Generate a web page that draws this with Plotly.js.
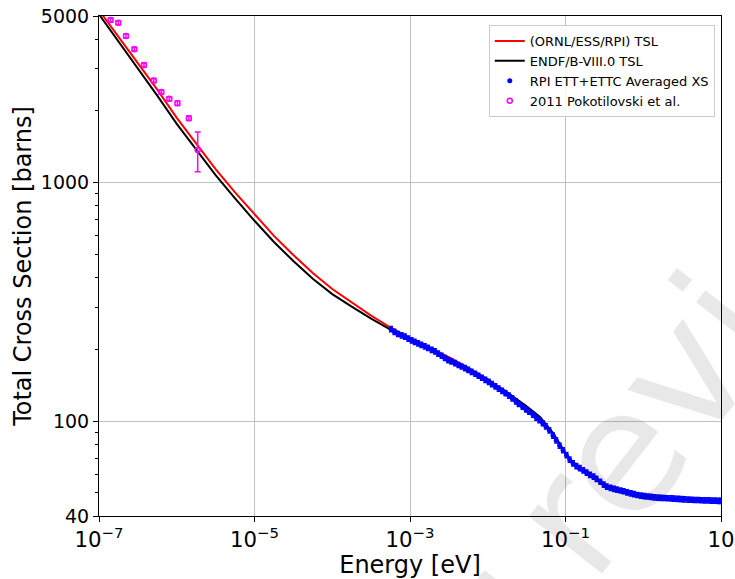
<!DOCTYPE html>
<html>
<head>
<meta charset="utf-8">
<script src="https://cdn.plot.ly/plotly-3.0.1.min.js"></script>
<style>
html,body{margin:0;padding:0;background:#fff;overflow:hidden;}
#wrap{position:relative;width:735px;height:579px;overflow:hidden;}
#chart{width:735px;height:579px;}
#wm{position:absolute;left:544px;top:552px;transform:translate(-50%,-50%) rotate(-52deg);
  white-space:nowrap;font-family:'DejaVu Sans';font-size:170px;line-height:1;color:rgba(0,0,0,0.09);pointer-events:none;}
</style>
</head>
<body>
<div id="wrap">
<div id="chart"></div>
<div id="wm">Under review</div>
</div>
<script>
// Evaluated TSL curves (energy in eV, total cross section in barns)
const tslEnergy = [1e-7, 1.78e-7, 3.16e-7, 5.62e-7, 1e-6, 1.78e-6, 3.16e-6, 5.62e-6, 1e-5, 1.78e-5, 3.16e-5, 5.62e-5, 1e-4, 1.78e-4, 3.16e-4, 5.62e-4, 1e-3, 1.78e-3, 3.16e-3, 5.62e-3, 1e-2, 1.78e-2, 2.51e-2, 3.16e-2, 4.7e-2, 5.62e-2, 6.97e-2, 8.32e-2, 0.1, 0.12, 0.146, 0.178, 0.217, 0.282, 0.355, 0.5, 0.82, 2.2, 10];
const ornlXS = [5283, 4092, 3186, 2457, 1871, 1452, 1140, 911, 736, 598, 497, 418, 358, 314, 277, 247, 223, 203.4, 185.3, 167.2, 149.6, 131.3, 120.7, 114.1, 103, 95.8, 88, 80.1, 72.6, 67.5, 62.8, 60.8, 58.8, 55.3, 52.2, 50.7, 48.5, 46.9, 46];
const endfXS = [5080, 3908, 3020, 2318, 1765, 1370, 1075, 859, 692, 564, 469, 395, 341, 302, 269, 242, 220, 201, 183.5, 166, 149, 132, 121.9, 115.3, 104, 96.8, 88.9, 80.9, 73.3, 68.2, 63.4, 61.4, 59.4, 55.9, 52.7, 51.2, 49, 47.4, 46.4];

// RPI ETT+ETTC averaged measurement
const rpiEnergy = [5.7e-4, 6.3e-4, 7.0e-4, 7.8e-4, 8.6e-4, 9.5e-4, 1.05e-3, 1.15e-3, 1.27e-3, 1.4e-3, 1.55e-3, 1.7e-3, 1.9e-3, 2.1e-3, 2.3e-3, 2.55e-3, 2.8e-3, 3.1e-3, 3.4e-3, 3.8e-3, 4.2e-3, 4.6e-3, 5.1e-3, 5.6e-3, 6.2e-3, 6.9e-3, 7.6e-3, 8.4e-3, 9.3e-3, 1.03e-2, 1.13e-2, 1.25e-2, 1.38e-2, 1.53e-2, 1.69e-2, 1.87e-2, 2.07e-2, 2.3e-2, 2.5e-2, 2.8e-2, 3.1e-2, 3.4e-2, 3.8e-2, 4.2e-2, 4.6e-2, 5.1e-2, 5.6e-2, 6.2e-2, 6.9e-2, 7.6e-2, 8.4e-2, 9.3e-2, 0.103, 0.113, 0.125, 0.138, 0.153, 0.169, 0.187, 0.207, 0.23, 0.25, 0.28, 0.31, 0.34, 0.38, 0.42, 0.46, 0.51, 0.56, 0.62, 0.69, 0.76, 0.84, 0.93, 1.03, 1.13, 1.25, 1.38, 1.53, 1.69, 1.87, 2.07, 2.3, 2.5, 2.8, 3.1, 3.4, 3.8, 4.2, 4.6, 5.1, 5.6, 6.2, 6.9, 7.6, 8.4, 9.3, 10];
const rpiXS = [243, 237, 232, 229, 226, 222, 218, 215, 212, 209, 206, 203, 199, 196, 192, 188, 184, 180, 178, 175, 172, 169.5, 167, 164, 161, 158, 155, 152, 149, 146, 143, 140, 137, 134, 131, 128, 124.5, 121, 118, 115, 112, 109.5, 106.5, 103.5, 101, 98, 95, 91.5, 87, 83, 79, 75.5, 72, 69, 66.5, 64.8, 63.5, 62.2, 60.8, 59.5, 58.5, 57.3, 55.7, 54.2, 53.1, 52.5, 52.0, 51.6, 51.2, 50.8, 50.3, 49.8, 49.4, 49.0, 48.7, 48.5, 48.3, 48.1, 47.9, 47.8, 47.7, 47.6, 47.5, 47.4, 47.3, 47.2, 47.1, 47.0, 46.9, 46.8, 46.7, 46.7, 46.6, 46.5, 46.5, 46.4, 46.4, 46.3, 46.3];

// 2011 Pokotilovski et al.
const pokEnergy = [1.41e-7, 1.77e-7, 2.22e-7, 2.85e-7, 3.79e-7, 5.06e-7, 6.33e-7, 8.02e-7, 1.02e-6, 1.43e-6, 1.86e-6];
const pokXS = [4810, 4690, 4120, 3625, 3115, 2680, 2399, 2249, 2153, 1862, 1371];
const pokErr = [90, 90, 80, 70, 60, 55, 50, 45, 45, 40, 260];

const traces = [
  {x: tslEnergy, y: ornlXS, type: 'scatter', mode: 'lines', name: '(ORNL/ESS/RPI) TSL',
   line: {color: '#ff0000', width: 2}},
  {x: tslEnergy, y: endfXS, type: 'scatter', mode: 'lines', name: 'ENDF/B-VIII.0 TSL',
   line: {color: '#000000', width: 2}},
  {x: rpiEnergy, y: rpiXS, type: 'scatter', mode: 'markers', name: 'RPI ETT+ETTC Averaged XS',
   marker: {color: '#0000ff', size: 5},
   error_y: {type: 'percent', value: 2.5, color: '#0000ff', thickness: 1.5, width: 2}},
  {x: pokEnergy, y: pokXS, type: 'scatter', mode: 'markers', name: '2011 Pokotilovski et al.',
   marker: {symbol: 'circle-open', color: '#ff00ff', size: 5, line: {width: 1.5, color: '#ff00ff'}},
   error_y: {type: 'data', array: pokErr, color: '#ff00ff', thickness: 1.5, width: 3}}
];

const layout = {
  width: 735, height: 579,
  margin: {l: 99, r: 14, t: 16, b: 63},
  paper_bgcolor: 'rgba(0,0,0,0)', plot_bgcolor: 'rgba(0,0,0,0)',
  font: {family: 'DejaVu Sans', color: '#000000'},
  showlegend: true,
  legend: {x: 0.99, y: 0.982, xanchor: 'right', yanchor: 'top',
    bgcolor: 'rgba(255,255,255,0.85)', bordercolor: '#cccccc', borderwidth: 1,
    font: {size: 13, family: 'DejaVu Sans'}},
  xaxis: {type: 'log', range: [-7, 1], tickmode: 'linear', tick0: -7, dtick: 2,
    exponentformat: 'power', ticklabeloverflow: 'allow', showgrid: true, gridcolor: '#b0b0b0', gridwidth: 0.8,
    zeroline: false, showline: true, mirror: true, linecolor: '#000000', linewidth: 1,
    ticks: 'outside', ticklen: 5, tickcolor: '#000000', tickfont: {size: 17},
    title: {text: 'Energy [eV]', font: {size: 24}, standoff: 9}},
  yaxis: {type: 'log', range: [Math.log10(40), Math.log10(5000)], tickmode: 'array',
    tickvals: [40, 100, 1000, 5000], ticktext: ['40', '100', '1000', '5000'],
    showgrid: true, gridcolor: '#b0b0b0', gridwidth: 0.8,
    zeroline: false, showline: true, mirror: true, linecolor: '#000000', linewidth: 1,
    ticks: 'outside', ticklen: 5, tickcolor: '#000000', tickfont: {size: 19},
    minor: {tickmode: 'array', tickvals: [50, 60, 70, 80, 90, 200, 300, 400, 500, 600, 700, 800, 900, 2000, 3000, 4000],
      ticks: 'outside', ticklen: 3, tickcolor: '#000000', showgrid: false},
    title: {text: 'Total Cross Section [barns]', font: {size: 24}, standoff: 2}}
};

Plotly.newPlot('chart', traces, layout, {displayModeBar: false, staticPlot: true});
</script>
</body>
</html>
